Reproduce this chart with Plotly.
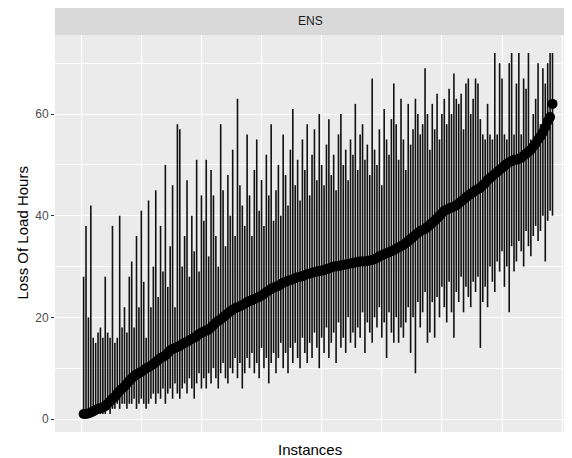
import plotly.graph_objects as go

# Point estimates (sorted), lower and upper bounds of each instance
ens_mid = [
    1.0, 1.0, 1.1, 1.3, 1.5, 1.8, 2.0, 2.1, 2.3, 2.5,
    3.0, 3.5, 4.0, 4.4, 5.0, 5.5, 6.0, 6.4, 7.0, 7.5,
    8.0, 8.4, 8.8, 9.0, 9.3, 9.6, 10.0, 10.2, 10.5, 10.8,
    11.2, 11.6, 12.0, 12.2, 12.5, 13.0, 13.5, 13.8, 14.0, 14.2,
    14.4, 14.7, 15.0, 15.2, 15.5, 15.8, 16.0, 16.3, 16.7, 17.0,
    17.2, 17.4, 17.6, 18.0, 18.5, 19.0, 19.3, 19.6, 20.0, 20.4,
    20.8, 21.2, 21.5, 21.8, 22.0, 22.2, 22.4, 22.7, 23.0, 23.2,
    23.4, 23.6, 23.8, 24.0, 24.3, 24.6, 25.0, 25.3, 25.6, 25.9,
    26.0, 26.2, 26.5, 26.8, 27.0, 27.2, 27.3, 27.5, 27.7, 27.9,
    28.0, 28.1, 28.3, 28.5, 28.6, 28.8, 28.9, 29.0, 29.1, 29.2,
    29.3, 29.5, 29.6, 29.8, 30.0, 30.0, 30.1, 30.2, 30.3, 30.4,
    30.5, 30.6, 30.7, 30.8, 30.9, 31.0, 31.0, 31.0, 31.1, 31.2,
    31.3, 31.5, 31.7, 32.0, 32.2, 32.4, 32.6, 32.8, 33.0, 33.2,
    33.5, 33.8, 34.0, 34.3, 34.6, 35.0, 35.4, 35.8, 36.2, 36.6,
    37.0, 37.2, 37.4, 37.8, 38.2, 38.6, 39.0, 39.5, 40.0, 40.5,
    41.0, 41.2, 41.4, 41.6, 41.8, 42.0, 42.4, 42.8, 43.2, 43.6,
    44.0, 44.3, 44.6, 45.0, 45.2, 45.5, 46.0, 46.4, 47.0, 47.4,
    47.8, 48.2, 48.6, 49.0, 49.4, 49.8, 50.2, 50.5, 50.7, 51.0,
    51.0, 51.2, 51.4, 51.8, 52.2, 52.6, 53.0, 53.6, 54.2, 55.0,
    55.6, 56.4, 57.4, 58.6, 59.4, 62.0,
]

ens_hi = [
    28, 38, 20, 42, 16, 15, 17, 18, 16, 28,
    17, 16, 38, 15, 16, 40, 18, 22, 17, 28,
    31, 18, 36, 22, 41, 27, 16, 43, 22, 30,
    45, 24, 38, 29, 50, 26, 34, 46, 22, 58,
    57, 30, 36, 47, 28, 40, 33, 51, 29, 44,
    39, 51, 32, 49, 44, 36, 30, 58, 45, 34,
    48, 40, 53, 36, 63, 46, 42, 38, 56, 44,
    36, 49, 55, 41, 47, 38, 52, 44, 58, 39,
    45, 50, 40, 56, 48, 42, 53, 61, 46, 51,
    43, 55, 49, 58, 44, 52, 57, 47, 60, 50,
    46, 54, 59, 48, 52, 45, 56, 60, 50, 53,
    47, 55, 52, 62, 49, 56, 58, 51, 54, 48,
    67, 53, 50, 57, 46, 61, 55, 52, 59, 66,
    58, 51, 63, 55, 49, 62, 54, 57, 63, 60,
    56, 58, 69, 60, 53, 62, 57, 64, 55, 60,
    63, 58, 65, 60, 68, 63, 62, 64, 57, 66,
    67, 60, 63, 67, 66, 59, 56, 55, 62, 56,
    55, 72, 56, 70, 67, 56, 55, 70, 72, 56,
    66, 72, 56, 67, 65, 72, 55, 60, 63, 70,
    58, 69, 66, 70, 72, 72,
]

ens_lo = [
    1, 1, 1, 1, 1, 1, 1, 1, 1, 1,
    2, 1, 2, 2, 3, 2, 3, 3, 2, 3,
    3, 4, 2, 3, 4, 3, 2, 3, 4, 5,
    3, 5, 4, 6, 3, 5, 6, 4, 7, 5,
    4, 6, 7, 5, 8, 6, 4, 7, 9, 6,
    8, 6, 9, 7, 10, 8, 6, 9, 11, 8,
    7, 10, 9, 12, 8, 11, 6, 9, 12, 10,
    13, 9, 11, 8, 14, 10, 12, 7, 11, 13,
    9, 12, 15, 10, 13, 9, 14, 11, 15, 12,
    10, 16, 13, 11, 15, 12, 17, 14, 10, 16,
    13, 18, 12, 15, 17, 11, 19, 14, 16, 13,
    20, 15, 17, 14, 18, 16, 21, 13, 19, 17,
    15, 20, 18, 22, 16, 19, 12, 21, 17, 15,
    20, 15, 18, 16, 19, 22, 13, 20, 9, 23,
    18, 21, 25, 15, 17, 23, 16, 24, 20, 26,
    22, 19, 27, 21, 16, 25, 23, 28, 21, 26,
    24, 22, 27, 25, 28, 14, 23, 26, 22, 30,
    27, 25, 31, 29, 33, 26, 30, 21, 34, 29,
    31, 35, 33, 30, 37, 34, 32, 36, 38, 35,
    37, 40, 31, 39, 41, 40,
]

instances = list(range(1, len(ens_mid) + 1))

seg_x, seg_y = [], []
for xi, lo, hi in zip(instances, ens_lo, ens_hi):
    seg_x += [xi, xi, None]
    seg_y += [lo, hi, None]

fig = go.Figure()
fig.add_trace(go.Scatter(x=seg_x, y=seg_y, mode="lines",
                         line=dict(color="#111111", width=1.6),
                         hoverinfo="skip", showlegend=False))
fig.add_trace(go.Scatter(x=instances, y=ens_mid, mode="markers",
                         marker=dict(color="black", size=10),
                         showlegend=False))

panel_h = 432 - 35
panel_w = 565 - 55

# page body has an 8px margin; shift everything accordingly
fig.update_layout(
    width=564, height=450,
    margin=dict(l=47, r=7, t=27, b=26),
    paper_bgcolor="white",
    plot_bgcolor="#EBEBEB",
    font=dict(family="Liberation Sans, Arial, sans-serif"),
    xaxis=dict(range=[-10.9, 201.2], tick0=0, dtick=50, showticklabels=False,
               ticks="", showgrid=True, gridcolor="white", gridwidth=1.2,
               zeroline=False, showline=False,
               minor=dict(tick0=0, dtick=25, showgrid=True, gridcolor="white", gridwidth=0.5)),
    yaxis=dict(range=[-2.55, 75.55], tickvals=[0, 20, 40, 60], ticks="outside",
               ticklen=3, tickcolor="#333333", tickwidth=1,
               tickfont=dict(size=12, color="#4D4D4D"),
               showgrid=True, gridcolor="white", gridwidth=1.2,
               zeroline=False, showline=False,
               minor=dict(tickvals=[10, 30, 50, 70], showgrid=True, gridcolor="white", gridwidth=0.5)),
    shapes=[dict(type="rect", xref="paper", yref="paper", x0=0, x1=1,
                 y0=1, y1=1 + 27 / panel_h, fillcolor="#D9D9D9", line=dict(width=0),
                 layer="below")],
    annotations=[
        dict(text="ENS", xref="paper", yref="paper", x=0.5, y=1 + 13.5 / panel_h,
             showarrow=False, font=dict(size=12, color="#1A1A1A"),
             xanchor="center", yanchor="middle"),
        dict(text="Instances", xref="paper", yref="paper", x=0.5, y=-17 / panel_h,
             showarrow=False, font=dict(size=15, color="black"),
             xanchor="center", yanchor="middle"),
        dict(text="Loss Of Load Hours", xref="paper", yref="paper", x=-33 / panel_w, y=0.5,
             showarrow=False, textangle=-90, font=dict(size=15, color="black"),
             xanchor="center", yanchor="middle"),
    ],
)

fig.write_html("out.html")
